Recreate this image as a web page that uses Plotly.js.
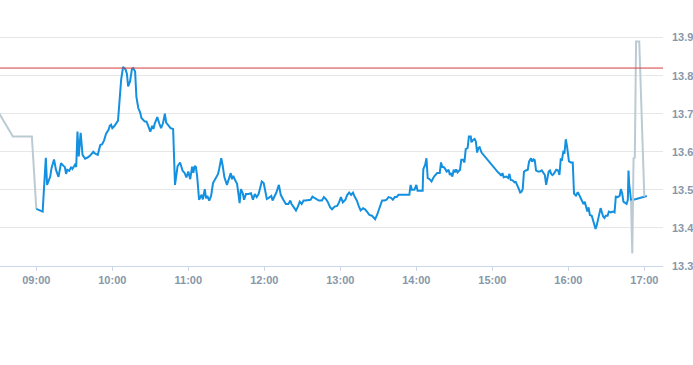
<!DOCTYPE html>
<html>
<head>
<meta charset="utf-8">
<script src="https://cdn.plot.ly/plotly-3.0.1.min.js"></script>
<style>
  html, body { margin: 0; padding: 0; background: #ffffff; }
  #chart { width: 693px; height: 365px; }
</style>
</head>
<body>
<div id="chart"></div>
<script>
// ---- data ----
const day = "2024-01-02 ";

const blueTimes = [
  "09:00","09:05","09:07:30","09:08:30","09:11","09:12","09:14","09:15:30","09:17:30","09:19:30",
  "09:21:30","09:22:30","09:23:30","09:24:30","09:26","09:27:30","09:28:30","09:30:30","09:31:30","09:32:30",
  "09:33:30","09:35","09:36:30","09:38:30","09:40:30","09:42:30","09:45","09:46:30","09:48:30","09:50:30",
  "09:52","09:53:30","09:55","09:57","09:58","09:59","10:00","10:01:30","10:04:30","10:05:30",
  "10:07","10:08:30","10:10:30","10:11:30","10:12:30","10:14","10:15:30","10:16:30","10:18","10:19",
  "10:20:30","10:22","10:23","10:25:30","10:27","10:28:30","10:30","10:31:30","10:32:30","10:33:30",
  "10:35:30","10:37","10:38:30","10:40","10:41:30","10:42:30","10:44","10:46","10:48","10:49:30",
  "10:51:30","10:53:30","10:55:30","10:57","10:58:30","11:00","11:01:30","11:03","11:04","11:05",
  "11:06","11:07","11:08:30","11:10:30","11:11:30","11:13","11:14","11:15","11:16:30","11:18",
  "11:19:30","11:22","11:23:30","11:24:30","11:26","11:27","11:28:30","11:30:30","11:32","11:33:30",
  "11:34:30","11:35:30","11:37","11:38:30","11:40:30","11:41:30","11:43","11:44","11:45:30","11:47:30",
  "11:49:30","11:51","11:52:30","11:54","11:55:30","11:56:30","11:58","11:59:30","12:00:30","12:02",
  "12:03:30","12:05:30","12:06:30","12:08","12:09:30","12:11:30","12:13","12:15","12:17","12:19",
  "12:20:30","12:21:30","12:23","12:25","12:26:30","12:28","12:29:30","12:31","12:32:30","12:34:30",
  "12:36:30","12:38","12:39:30","12:41","12:43","12:45:30","12:47","12:48:30","12:50","12:52",
  "12:53:30","12:55:30","12:57:30","12:59","13:00:30","13:02","13:04","13:05:30","13:07","13:08:30",
  "13:10","13:11:30","13:13","13:14:30","13:16","13:18","13:19:30","13:21:30","13:23","13:25",
  "13:26:30","13:27:30","13:29","13:31","13:32","13:33","13:35","13:36:30","13:38","13:40",
  "13:41:30","13:43","13:44:30","13:46","13:54:30","13:55:30","13:56:30","13:58:30","14:00","14:01",
  "14:05","14:05:30","14:07","14:08","14:09","14:10:30","14:12","14:14","14:16:30","14:18:30",
  "14:19:30","14:20:30","14:21:30","14:22:30","14:24","14:25:30","14:26:30","14:27:30","14:28:30","14:29:30",
  "14:30:30","14:31:30","14:32:30","14:34:30","14:35:30","14:37","14:38","14:39","14:40:30","14:41:30",
  "14:43","14:43:30","14:45","14:46","14:47","14:48","14:49","14:50","14:51:30","14:53",
  "14:55","14:56:30","14:58","14:59:30","15:01","15:02:30","15:04:30","15:06","15:07","15:08",
  "15:09","15:11","15:12:30","15:13:30","15:14:30","15:16","15:17:30","15:18:30","15:19:30","15:21",
  "15:22","15:23","15:24","15:25","15:26:30","15:28","15:29","15:30:30","15:31:30","15:32:30",
  "15:33:30","15:34:30","15:36","15:37:30","15:39","15:40:30","15:41:30","15:42:30","15:43:30","15:44:30",
  "15:45:30","15:46:30","15:47:30","15:48:30","15:50:30","15:52","15:53","15:54","15:55","15:56",
  "15:57","15:58","15:59","16:00:30","16:02","16:03:30","16:04:30","16:06","16:07:30","16:09",
  "16:10:30","16:12","16:13","16:14","16:15","16:16","16:17","16:18:30","16:19:30","16:20:30",
  "16:21:30","16:22:30","16:23:30","16:25:30","16:26:30","16:27:30","16:28:30","16:29:30","16:31","16:32",
  "16:33:30","16:35:30","16:36:30","16:37:30","16:39","16:40:30","16:41:30","16:42:30","16:43:30","16:45",
  "16:46","16:47","16:47:30","16:48","16:49","16:49:30","17:02"
];

const blueValues = [
  13.450,13.443,13.584,13.513,13.535,13.557,13.580,13.553,13.534,13.570,
  13.563,13.560,13.542,13.553,13.550,13.560,13.555,13.566,13.560,13.653,
  13.588,13.650,13.592,13.582,13.585,13.590,13.600,13.595,13.592,13.618,
  13.620,13.630,13.647,13.658,13.668,13.671,13.662,13.667,13.682,13.720,
  13.790,13.823,13.816,13.805,13.772,13.785,13.818,13.820,13.811,13.745,
  13.715,13.703,13.689,13.680,13.679,13.667,13.653,13.668,13.660,13.674,
  13.691,13.675,13.662,13.675,13.700,13.677,13.671,13.662,13.660,13.513,
  13.562,13.572,13.550,13.545,13.533,13.548,13.528,13.561,13.545,13.563,
  13.560,13.535,13.474,13.487,13.475,13.502,13.478,13.484,13.472,13.484,
  13.518,13.533,13.542,13.557,13.583,13.566,13.533,13.513,13.531,13.544,
  13.528,13.537,13.525,13.516,13.465,13.502,13.491,13.474,13.489,13.489,
  13.491,13.474,13.489,13.481,13.489,13.500,13.522,13.518,13.504,13.476,
  13.479,13.484,13.472,13.481,13.493,13.513,13.487,13.474,13.463,13.463,
  13.472,13.463,13.456,13.446,13.456,13.469,13.463,13.472,13.472,13.474,
  13.474,13.482,13.479,13.474,13.472,13.472,13.481,13.476,13.469,13.454,
  13.449,13.456,13.458,13.467,13.481,13.467,13.474,13.487,13.493,13.487,
  13.493,13.481,13.472,13.458,13.446,13.452,13.449,13.441,13.434,13.432,
  13.428,13.423,13.434,13.452,13.461,13.472,13.472,13.474,13.481,13.479,
  13.474,13.481,13.481,13.487,13.487,13.513,13.500,13.500,13.513,13.498,
  13.498,13.554,13.566,13.583,13.531,13.528,13.522,13.535,13.544,13.544,
  13.572,13.560,13.560,13.557,13.548,13.553,13.539,13.544,13.535,13.553,
  13.546,13.554,13.546,13.553,13.579,13.579,13.572,13.607,13.610,13.640,
  13.640,13.625,13.632,13.634,13.627,13.598,13.610,13.612,13.598,13.592,
  13.583,13.577,13.570,13.563,13.557,13.553,13.546,13.542,13.537,13.544,
  13.533,13.535,13.531,13.542,13.526,13.525,13.520,13.521,13.511,13.502,
  13.493,13.495,13.502,13.548,13.551,13.553,13.574,13.583,13.574,13.580,
  13.578,13.551,13.548,13.548,13.551,13.542,13.539,13.513,13.528,13.548,
  13.551,13.542,13.539,13.542,13.553,13.551,13.539,13.580,13.579,13.600,
  13.598,13.633,13.614,13.575,13.572,13.572,13.490,13.485,13.494,13.483,
  13.472,13.463,13.469,13.452,13.443,13.454,13.434,13.432,13.421,13.408,
  13.397,13.408,13.426,13.452,13.441,13.430,13.426,13.432,13.432,13.443,
  13.441,13.443,13.441,13.482,13.481,13.484,13.502,13.491,13.469,13.465,
  13.463,13.474,13.551,13.518,13.478,13.472,13.484
];

// pre-open and closing auction (grey)
const preTimes  = ["08:30","08:41:30","08:56:30","09:00"];
const preValues = [13.705, 13.640, 13.640, 13.450];
const postTimes  = ["16:49:30","16:50:30","16:51:30","16:52:30","16:53:30","16:56","17:00"];
const postValues = [13.472, 13.333, 13.583, 13.585, 13.890, 13.890, 13.482];

const refLevel = 13.82;   // red reference line

const hourTicks  = ["09:00","10:00","11:00","12:00","13:00","14:00","15:00","16:00","17:00"];
const priceTicks = [13.3, 13.4, 13.5, 13.6, 13.7, 13.8, 13.9];
const xRange = ["08:31:20", "17:14:45"];
const yRange = [13.3, 13.92];

// ---- build ----
const toDate = t => day + t;
const tickFont = { family: "Liberation Sans, Arial, sans-serif", size: 11, color: "#8797aa", weight: "bold" };

const traces = [
  { x: preTimes.map(toDate), y: preValues, type: "scatter", mode: "lines",
    line: { color: "#bccbd3", width: 2 }, hoverinfo: "skip" },
  { x: blueTimes.map(toDate), y: blueValues, type: "scatter", mode: "lines",
    line: { color: "#1490e0", width: 2 }, hoverinfo: "skip" },
  { x: postTimes.map(toDate), y: postValues, type: "scatter", mode: "lines",
    line: { color: "#bccbd3", width: 2 }, hoverinfo: "skip" }
];

const layout = {
  width: 693, height: 365,
  margin: { l: 0, r: 30, t: 30, b: 99, pad: 0 },
  paper_bgcolor: "#ffffff", plot_bgcolor: "#ffffff",
  showlegend: false,
  xaxis: {
    type: "date",
    range: xRange.map(toDate),
    tickvals: hourTicks.map(toDate),
    ticktext: hourTicks,
    showgrid: false, zeroline: false,
    showline: true, linecolor: "#ccd6eb", linewidth: 1,
    ticks: "outside", ticklen: 4, tickcolor: "#ccd6eb", tickwidth: 1,
    tickfont: tickFont
  },
  yaxis: {
    side: "right",
    range: yRange,
    tickvals: priceTicks,
    ticktext: priceTicks.map(v => v.toFixed(1)),
    showgrid: true, gridcolor: "#e6e6e6", gridwidth: 1,
    zeroline: false, showline: false, ticks: "",
    ticklabelstandoff: 8,
    tickfont: tickFont
  },
  shapes: [
    { type: "line", xref: "paper", x0: 0, x1: 1, yref: "y", y0: refLevel, y1: refLevel,
      line: { color: "#d63c3c", width: 1 }, layer: "above" }
  ]
};

Plotly.newPlot("chart", traces, layout, { staticPlot: true, displayModeBar: false });
</script>
</body>
</html>
